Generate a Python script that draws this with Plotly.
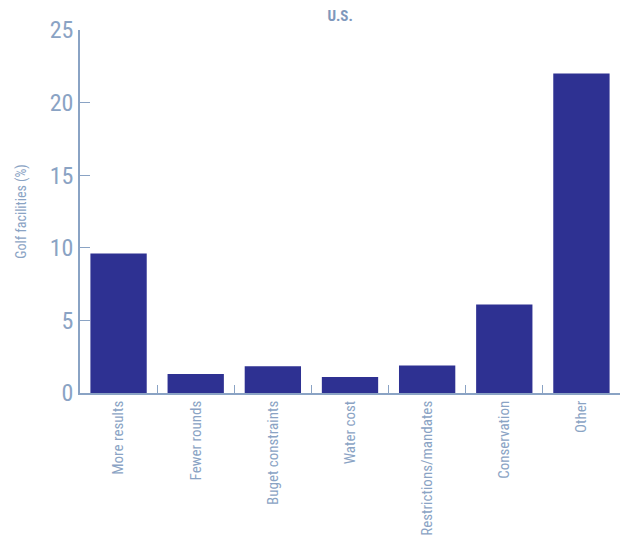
import plotly.graph_objects as go

categories = ["More results", "Fewer rounds", "Buget constraints", "Water cost",
              "Restrictions/mandates", "Conservation", "Other"]
values = [9.6, 1.3, 1.85, 1.1, 1.9, 6.1, 22.0]
y_ticks = [0, 5, 10, 15, 20, 25]

axis_color = "#8AA3C4"
bar_color = "#2E3192"
font_family = "Liberation Sans Narrow, Roboto Condensed, Arial Narrow, sans-serif"

fig = go.Figure(go.Bar(x=categories, y=values, marker_color=bar_color, marker_line_width=0))

fig.update_layout(
    width=624, height=535,
    margin=dict(l=80, r=4, t=30, b=142),
    plot_bgcolor="white", paper_bgcolor="white",
    bargap=0.27,
    showlegend=False,
    font=dict(family=font_family, color=axis_color),
    title=dict(text="<b>U.S.</b>", x=0.545, xanchor="center", y=0.97, yanchor="middle",
               font=dict(size=15, color="#7F98BC", family=font_family)),
)
fig.update_yaxes(
    range=[0, 25], tickvals=y_ticks, ticks="inside", ticklen=10, tickcolor=axis_color,
    showline=True, linecolor=axis_color, linewidth=1.5, showgrid=False, zeroline=False,
    automargin=False,
    tickfont=dict(size=24, color=axis_color, family=font_family),
    title=dict(text="Golf facilities (%)", font=dict(size=14, color=axis_color, family=font_family), standoff=20),
)
fig.update_xaxes(
    ticks="inside", tickson="boundaries", ticklen=8, tickcolor=axis_color,
    showline=True, linecolor=axis_color, linewidth=1.5, showgrid=False,
    automargin=False,
    tickangle=-90, tickfont=dict(size=15, color=axis_color, family=font_family),
)
fig.write_html("out.html", config={"displayModeBar": False},
               post_script="document.body.style.margin='0';document.body.style.overflow='hidden';")
